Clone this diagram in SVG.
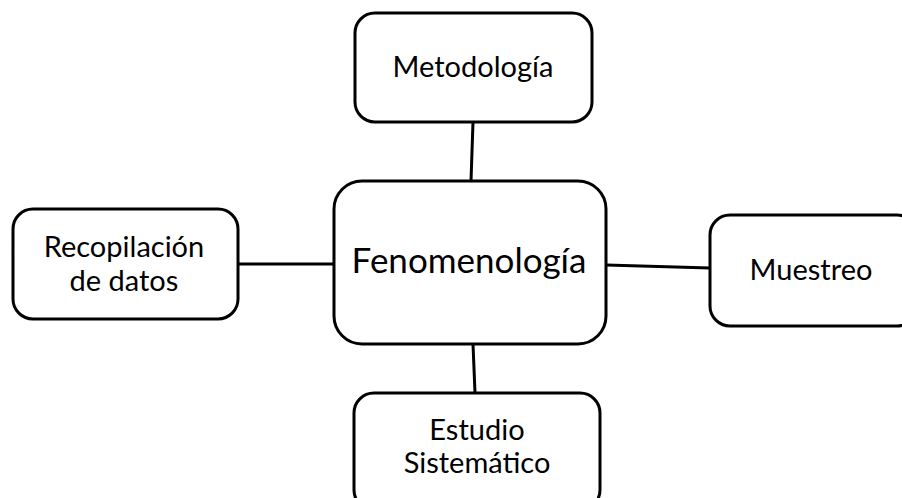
<svg xmlns="http://www.w3.org/2000/svg" width="902" height="498" viewBox="0 0 902 498">
<style>
.box{fill:#fff;stroke:#000;stroke-width:3}
.t{font-family:Lato,"Open Sans",sans-serif;font-size:29px;fill:#000;text-anchor:middle}
.big{font-size:35px}
.c{stroke:#000;stroke-width:3;fill:none}
</style>
<rect width="902" height="498" fill="#fff"/>
<g id="connectors">
<line class="c" x1="473" y1="122" x2="471" y2="181"/>
<line class="c" x1="238" y1="264" x2="334" y2="264"/>
<line class="c" x1="606" y1="265" x2="710" y2="268"/>
<line class="c" x1="473" y1="344" x2="475" y2="393"/>
</g>
<g id="metodologia">
<rect class="box" x="355" y="13" width="237" height="109" rx="20"/>
<text class="t" x="473" y="77">Metodología</text>
</g>
<g id="fenomenologia">
<rect class="box" x="334" y="181" width="272" height="163" rx="28"/>
<text class="t big" x="469" y="273">Fenomenología</text>
</g>
<g id="recopilacion">
<rect class="box" x="13" y="209" width="225" height="110" rx="20"/>
<text class="t" x="124" y="257">Recopilación</text>
<text class="t" x="124" y="291">de datos</text>
</g>
<g id="muestreo">
<rect class="box" x="710" y="215" width="207" height="111" rx="20"/>
<text class="t" x="811" y="280">Muestreo</text>
</g>
<g id="estudio">
<rect class="box" x="354" y="393" width="246" height="117" rx="20"/>
<text class="t" x="477" y="440">Estudio</text>
<text class="t" x="477" y="473">Sistemático</text>
</g>
</svg>
